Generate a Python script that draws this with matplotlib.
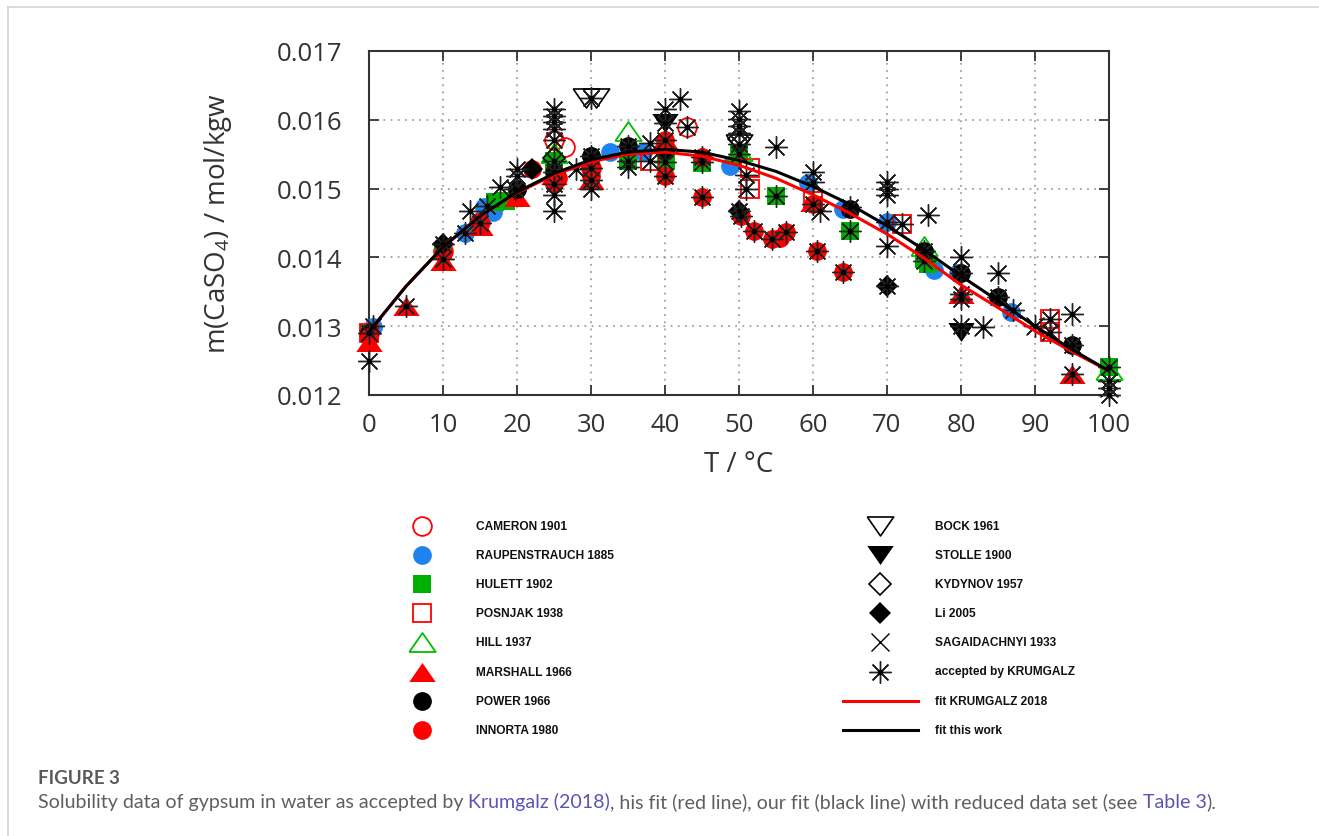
import matplotlib
matplotlib.use("Agg")
import matplotlib.pyplot as plt

W, H = 1319, 837

# fit curves, every 5 degC
fit_T = [0, 5, 10, 15, 20, 25, 30, 35, 40, 45, 50, 55, 60, 65, 70, 75, 80, 85, 90, 95, 100]
fit_krum = [0.01292, 0.01358, 0.01415, 0.01460, 0.01494, 0.01520, 0.01539, 0.01550, 0.01553,
            0.01547, 0.01534, 0.01515, 0.01491, 0.01464, 0.01434, 0.01399, 0.01360, 0.01327,
            0.01293, 0.01263, 0.01235]
fit_this = [0.01292, 0.01358, 0.01415, 0.01460, 0.01495, 0.01522, 0.01542, 0.01553, 0.01557,
            0.01553, 0.01541, 0.01525, 0.01503, 0.01477, 0.01446, 0.01411, 0.01373, 0.01337,
            0.01300, 0.01266, 0.01235]

# data sets (T in degC, m in mol/kgw)
cam_T = [0, 10, 15, 25, 26.5, 30, 43]
cam_m = [0.0129, 0.0141, 0.01452, 0.0157, 0.01561, 0.0153, 0.0159]
rau_T = [0.5, 13, 15.5, 16.7, 20, 30, 32.6, 37, 48.8, 59.3, 64, 70, 76.3, 79.6, 86.8]
rau_m = [0.01299, 0.01435, 0.01473, 0.01466, 0.01500, 0.01548, 0.01553, 0.01553, 0.01533,
         0.01508, 0.01470, 0.01451, 0.01382, 0.01377, 0.01321]
hul_T = [0, 10, 17, 18.5, 25, 35, 40.2, 45, 50, 55, 65, 75, 75.5, 100]
hul_m = [0.0129, 0.0141, 0.0148, 0.01482, 0.0154, 0.0154, 0.0154, 0.01537, 0.0155, 0.01489,
         0.01439, 0.01398, 0.0139, 0.0124]
pos_T = [0, 38, 51.5, 51.5, 60, 72, 92, 92]
pos_m = [0.0129, 0.0154, 0.0153, 0.0150, 0.01482, 0.01449, 0.0131, 0.01291]
hill_T = [25, 35, 50, 75, 100]
hill_m = [0.01552, 0.01584, 0.01555, 0.01417, 0.01236]
mar_T = [0, 5, 10, 15, 20, 25, 30, 40, 60, 80, 95]
mar_m = [0.01277, 0.0133, 0.01395, 0.01446, 0.01488, 0.0152, 0.01512, 0.0157, 0.0148, 0.01347,
         0.01231]
pow_T = [0, 20, 25, 30, 35, 40, 65, 75, 80, 85, 95]
pow_m = [0.0129, 0.0150, 0.01524, 0.01548, 0.01562, 0.01555, 0.01471, 0.0141, 0.01378, 0.01342,
         0.01272]
inn_T = [0, 10, 15, 22, 25, 25.5, 30, 30, 40, 40, 45, 45, 50.3, 52, 54.4, 55.5, 56.3, 60, 60.5, 64]
inn_m = [0.01285, 0.01406, 0.01452, 0.01529, 0.01507, 0.01515, 0.0153, 0.01518, 0.0157, 0.01519,
         0.01546, 0.01488, 0.0146, 0.01439, 0.01427, 0.01428, 0.01437, 0.01478, 0.01409, 0.01379]
bock_T = [29.3, 30.7, 50]
bock_m = [0.01631, 0.01631, 0.01565]
sto_T = [40, 80]
sto_m = [0.01596, 0.01291]
kyd_T = [25, 50]
kyd_m = [0.01545, 0.01572]
li_T = [10, 22, 50, 70]
li_m = [0.01419, 0.01529, 0.01468, 0.01359]
sag_T = [61, 83, 90, 100]
sag_m = [0.01468, 0.01299, 0.01301, 0.0121]
acc_T = [0, 0, 0.5, 5, 10, 10, 13, 13.6, 15, 16, 17.7, 19.7, 20, 20, 25, 25, 25, 25, 25, 25, 25,
         25, 25, 25, 28, 30, 30, 30, 30, 30, 35, 35, 35, 38, 38, 40, 40, 40, 40, 40, 42, 43, 45,
         45, 45, 50, 50, 50, 50, 50, 50, 51, 51, 50, 50.3, 52, 54.4, 55, 55, 56.3, 60, 60, 60, 61,
         60.5, 64, 65, 65, 70, 70, 70, 70, 70, 70, 72, 75.5, 75, 75, 80, 80, 80, 80, 80, 83, 85,
         85, 87, 90, 92, 92, 95, 95, 95, 100, 100, 100, 100]
acc_m = [0.0129, 0.0125, 0.0130, 0.0133, 0.0142, 0.01398, 0.01435, 0.01468, 0.0145, 0.01475,
         0.01502, 0.0150, 0.01529, 0.01519, 0.01616, 0.01606, 0.01597, 0.01587, 0.0157, 0.0154,
         0.01524, 0.01507, 0.0149, 0.01468, 0.01529, 0.01631, 0.01548, 0.0153, 0.01512, 0.0150,
         0.01562, 0.0154, 0.01532, 0.01567, 0.0154, 0.01615, 0.01596, 0.0157, 0.01538, 0.01519,
         0.0163, 0.0159, 0.01546, 0.01538, 0.01488, 0.01613, 0.01601, 0.01591, 0.01581, 0.01565,
         0.0155, 0.0152, 0.0150, 0.01468, 0.0146, 0.01439, 0.01427, 0.0156, 0.01489, 0.01437,
         0.01524, 0.0151, 0.01478, 0.01468, 0.01409, 0.01379, 0.01473, 0.01439, 0.01509, 0.0150,
         0.0149, 0.01451, 0.01417, 0.01359, 0.01449, 0.01461, 0.0141, 0.01395, 0.01401, 0.01378,
         0.01347, 0.0134, 0.01301, 0.01299, 0.01378, 0.01342, 0.01323, 0.01301, 0.0131, 0.01291,
         0.01318, 0.01272, 0.01231, 0.0124, 0.0122, 0.0121, 0.0120]

x_ticks = [0, 10, 20, 30, 40, 50, 60, 70, 80, 90, 100]
y_ticks = [0.012, 0.013, 0.014, 0.015, 0.016, 0.017]

red = '#ff0000'
blue = '#1e82f0'
green = '#00b000'
tri_up = [(-1, -0.72), (1, -0.72), (0, 0.72), (-1, -0.72)]
tri_dn = [(-1, 0.72), (1, 0.72), (0, -0.72), (-1, 0.72)]
star8 = (8, 2, 0)

# label, x, y, marker style
series = [
    ("CAMERON 1901", cam_T, cam_m, dict(marker='o', ms=13.5, mfc='none', mec=red, mew=1.3)),
    ("RAUPENSTRAUCH 1885", rau_T, rau_m, dict(marker='o', ms=13.5, mfc=blue, mec=blue, mew=0)),
    ("HULETT 1902", hul_T, hul_m, dict(marker='s', ms=13.5, mfc=green, mec=green, mew=0)),
    ("POSNJAK 1938", pos_T, pos_m, dict(marker='s', ms=13.5, mfc='none', mec=red, mew=1.3)),
    ("HILL 1937", hill_T, hill_m, dict(marker=tri_up, ms=19, mfc='none', mec='#00c000', mew=1.3)),
    ("MARSHALL 1966", mar_T, mar_m, dict(marker=tri_up, ms=19, mfc=red, mec=red, mew=0)),
    ("POWER 1966", pow_T, pow_m, dict(marker='o', ms=13.5, mfc='black', mec='black', mew=0)),
    ("INNORTA 1980", inn_T, inn_m, dict(marker='o', ms=13.5, mfc=red, mec=red, mew=0)),
    ("BOCK 1961", bock_T, bock_m, dict(marker=tri_dn, ms=19, mfc='none', mec='black', mew=1.2)),
    ("STOLLE 1900", sto_T, sto_m, dict(marker=tri_dn, ms=19, mfc='black', mec='black', mew=0)),
    ("KYDYNOV 1957", kyd_T, kyd_m, dict(marker='D', ms=11, mfc='none', mec='black', mew=1.2)),
    ("Li 2005", li_T, li_m, dict(marker='D', ms=11, mfc='black', mec='black', mew=0)),
    ("SAGAIDACHNYI 1933", sag_T, sag_m, dict(marker='x', ms=13.5, mec='black', mew=1.0)),
    ("accepted by KRUMGALZ", acc_T, acc_m, dict(marker=star8, ms=16, mec='#222222', mew=1.0)),
]

plt.rcParams['mathtext.fontset'] = 'custom'
plt.rcParams['mathtext.rm'] = 'Open Sans'
plt.rcParams['mathtext.it'] = 'Open Sans'

fig = plt.figure(figsize=(W / 100, H / 100), dpi=100)
ax = fig.add_axes([369 / W, 1 - 396 / H, 740 / W, 344 / H])

for i, (lab, xs, ys, st) in enumerate(series):
    ax.plot(xs, ys, ls='none', zorder=3 + i * 0.1, clip_on=False, **st)
    if lab.startswith("accepted"):
        ax.plot(xs, ys, ls='none', marker='o', ms=3, mfc='black', mec='black', zorder=4.5,
                clip_on=False)

ax.plot(fit_T, fit_krum, color=red, lw=2.2, zorder=5)
ax.plot(fit_T, fit_this, color='black', lw=2.2, zorder=5.1)

ax.set_xlim(0, 100)
ax.set_ylim(0.012, 0.017)
ax.set_xticks(x_ticks)
ax.set_yticks(y_ticks)
ax.set_yticklabels(['%.3f' % v for v in y_ticks])
ax.grid(True, color='#909090', ls=(0, (1.2, 3.5)), lw=1.1)
ax.tick_params(direction='in', length=7, width=1.3, top=True, right=True, color='#333333',
               labelsize=18.5, labelcolor='#333333')
ax.tick_params(axis='y', pad=19)
ax.tick_params(axis='x', pad=12)
for lbl in ax.get_xticklabels() + ax.get_yticklabels():
    lbl.set_family('Open Sans')
for sp in ax.spines.values():
    sp.set_color('#333333')
    sp.set_linewidth(1.5)
ax.set_xlabel('T / °C', fontsize=20, color='#333333', family='Open Sans')
ax.set_ylabel('m(CaSO$_4$) / mol/kgw', fontsize=20, color='#333333', family='Open Sans')
ax.xaxis.set_label_coords(0.5, -0.16)
ax.yaxis.set_label_coords(-0.183, 0.5)

# overlay in pixel coordinates for the key, frame and caption
ov = fig.add_axes([0, 0, 1, 1])
ov.set_xlim(0, W)
ov.set_ylim(H, 0)
ov.axis('off')

ov.plot([7.5, W], [7.5, 7.5], color='#d4d4d4', lw=1.2)
ov.plot([7.5, 7.5], [7.5, H], color='#d4d4d4', lw=1.2)

row0, step = 527, 29.1
key_font = dict(family='Liberation Sans', weight='bold', fontsize=8.6, va='center', color='#111111')
for i, (lab, xs, ys, st) in enumerate(series):
    col, row = divmod(i, 8)
    mx = 422 if col == 0 else 880
    tx = 476 if col == 0 else 935
    y = row0 + row * step
    ov.plot([mx], [y], ls='none', **st)
    if lab.startswith("accepted"):
        ov.plot([mx], [y], ls='none', marker='o', ms=3, mfc='black', mec='black')
    ov.text(tx, y, lab, **key_font)
for j, (lab, c) in enumerate([("fit KRUMGALZ 2018", red), ("fit this work", 'black')]):
    y = row0 + (6 + j) * step
    ov.plot([843, 918], [y, y], color=c, lw=2.2)
    ov.text(935, y, lab, **key_font)

# caption
fig.canvas.draw()
rend = fig.canvas.get_renderer()


def text_w(s, **kw):
    t = ov.text(0, 0, s, **kw)
    w = t.get_window_extent(renderer=rend).width
    t.remove()
    return w


fs0 = 12
first = "Solubility data of gypsum in water as accepted by"
cap_fs = fs0 * 425 / text_w(first, family='Lato', fontsize=fs0)
fig_fs = fs0 * 82 / text_w("FIGURE 3", family='Lato', weight='bold', fontsize=fs0)

ov.text(38, 784, "FIGURE 3", family='Lato', weight='bold', fontsize=fig_fs, color='#5a5a5a',
        va='baseline')

gray = '#5f5f5f'
link = '#5a55b5'
parts = [("Solubility data of gypsum in water as accepted by ", gray),
         ("Krumgalz (2018)", link),
         (", his fit (red line), our fit (black line) with reduced data set (see ", gray),
         ("Table 3", link),
         (").", gray)]
bar_w = text_w("|", family='Lato', fontsize=cap_fs)
prefix = ""
for s, c in parts:
    x = 38 + (text_w(prefix + "|", family='Lato', fontsize=cap_fs) - bar_w if prefix else 0)
    ov.text(x, 808, s, family='Lato', fontsize=cap_fs, color=c, va='baseline')
    prefix += s

fig.savefig('out.png', dpi=100)
